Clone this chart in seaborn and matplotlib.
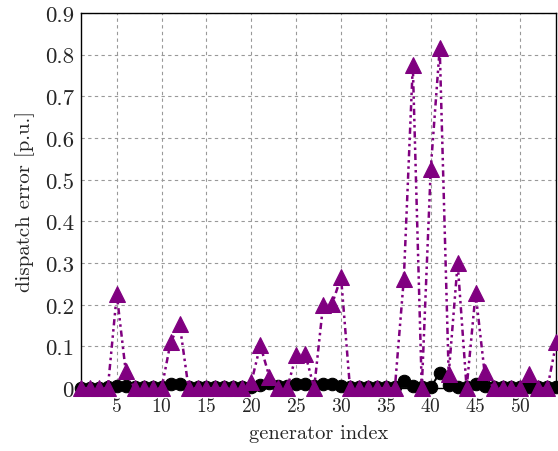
import matplotlib
matplotlib.use("Agg")
import matplotlib.pyplot as plt
import seaborn as sns
import pandas as pd

gen_index = list(range(1, 55))
err_triangle = [0, 0, 0, 0, 0.225, 0.04, 0, 0, 0, 0,
                0.11, 0.155, 0, 0, 0, 0, 0, 0, 0, 0.014,
                0.103, 0.028, 0, 0, 0.08, 0.083, 0, 0.2, 0.202, 0.266,
                0, 0, 0, 0, 0, 0, 0.263, 0.775, 0, 0.526,
                0.816, 0.033, 0.3, 0, 0.228, 0.038, 0, 0, 0, 0,
                0.033, 0, 0, 0.11]
err_circle = [0.001, 0.001, 0.001, 0.002, 0.005, 0.006, 0.004, 0.003, 0.003, 0.003,
              0.01, 0.01, 0.004, 0.003, 0.003, 0.003, 0.003, 0.003, 0.003, 0.004,
              0.008, 0.012, 0.006, 0.005, 0.01, 0.01, 0.005, 0.01, 0.01, 0.006,
              0.003, 0.003, 0.003, 0.003, 0.003, 0.004, 0.017, 0.005, 0.003, 0.002,
              0.037, 0.008, 0.003, 0.004, 0.01, 0.006, 0.003, 0.003, 0.003, 0.003,
              0.004, 0.003, 0.003, 0.003]
x_ticks = [5, 10, 15, 20, 25, 30, 35, 40, 45, 50]
y_ticks = [0, 0.1, 0.2, 0.3, 0.4, 0.5, 0.6, 0.7, 0.8, 0.9]
y_ticklabels = ["0", "0.1", "0.2", "0.3", "0.4", "0.5", "0.6", "0.7", "0.8", "0.9"]

sns.set_style("whitegrid")
plt.rcParams["font.family"] = ["cmr10", "DejaVu Serif"]
plt.rcParams["axes.formatter.use_mathtext"] = True

df_c = pd.DataFrame({"idx": gen_index, "err": err_circle})
df_t = pd.DataFrame({"idx": gen_index, "err": err_triangle})

fig = plt.figure(figsize=(5.58, 4.52), dpi=100)
ax = fig.add_axes([0.145, 0.139, 0.852, 0.830])

sns.lineplot(data=df_c, x="idx", y="err", ax=ax, color="black", marker="o",
             markersize=9, markeredgecolor="black", linewidth=1.5,
             linestyle="-", clip_on=False, zorder=3)
sns.lineplot(data=df_t, x="idx", y="err", ax=ax, color="#800080", marker="^",
             markersize=11, markeredgecolor="#800080", linewidth=1.8,
             linestyle=(0, (2.5, 1.5, 1, 1.5, 1, 1.5)), clip_on=False, zorder=4)

ax.set_xlim(1, 54)
ax.set_ylim(0, 0.9)
ax.set_xticks(x_ticks)
ax.set_yticks(y_ticks)
ax.set_yticklabels(y_ticklabels)
ax.tick_params(axis="x", labelsize=14, length=0, pad=6)
ax.tick_params(axis="y", labelsize=16.5, length=0, pad=5)
ax.set_xlabel("generator index", fontsize=14.7, labelpad=7)
ax.set_ylabel("dispatch error [p.u.]", fontsize=15, labelpad=7)
ax.grid(True, color="#999999", linestyle=(0, (3, 3)), linewidth=0.8)
for s in ax.spines.values():
    s.set_color("black")
    s.set_linewidth(1.0)

fig.savefig("out.png", dpi=100)
